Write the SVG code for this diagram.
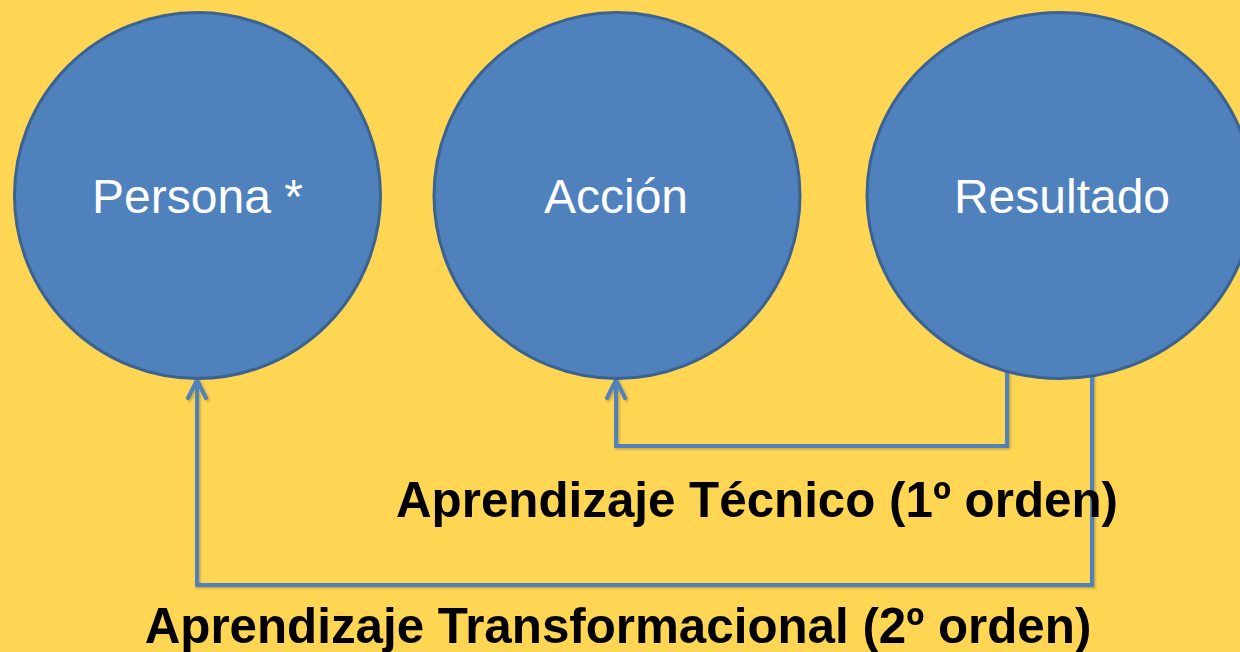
<svg xmlns="http://www.w3.org/2000/svg" width="1240" height="652" viewBox="0 0 1240 652">
<style>
.node{fill:#4F81BD;stroke:#3B6290;stroke-width:3}
.nlabel{font-family:"Liberation Sans",Arial,sans-serif;font-size:48px;fill:#FFFFFF;text-anchor:middle}
.conn{fill:none;stroke:#4F81BD;stroke-width:4;stroke-linejoin:miter}
.cap{font-family:"Liberation Sans",Arial,sans-serif;font-size:49.3px;font-weight:bold;fill:#000000;text-anchor:middle}
</style>
<defs>
<marker id="arr" markerUnits="userSpaceOnUse" markerWidth="30" markerHeight="30" refX="20" refY="15" orient="auto" viewBox="0 0 30 30">
<path d="M2,6 L20,15 L2,24" fill="none" stroke="#4F81BD" stroke-width="4" stroke-linecap="round" stroke-linejoin="miter"/>
</marker>
<filter id="sh" x="-5%" y="-5%" width="110%" height="110%">
<feDropShadow dx="1.5" dy="1.5" stdDeviation="1" flood-color="#000" flood-opacity="0.25"/>
</filter>
</defs>
<rect x="0" y="0" width="1240" height="652" fill="#FFD653"/>
<g id="connectors" filter="url(#sh)">
<path class="conn" d="M1007,370 L1007,446 L616,446 L616,380" marker-end="url(#arr)"/>
<path class="conn" d="M1092,374 L1092,585 L197,585 L197,380" marker-end="url(#arr)"/>
</g>
<g id="persona">
<circle class="node" cx="197.5" cy="195.5" r="183"/>
<text class="nlabel" x="197.5" y="213">Persona *</text>
</g>
<g id="accion">
<circle class="node" cx="617" cy="195.5" r="183"/>
<text class="nlabel" x="616" y="213">Acción</text>
</g>
<g id="resultado">
<ellipse class="node" cx="1060" cy="195.5" rx="193" ry="183"/>
<text class="nlabel" x="1062" y="213">Resultado</text>
</g>
<text class="cap" x="757" y="517">Aprendizaje Técnico (1º orden)</text>
<text class="cap" x="618" y="643">Aprendizaje Transformacional (2º orden)</text>
</svg>
